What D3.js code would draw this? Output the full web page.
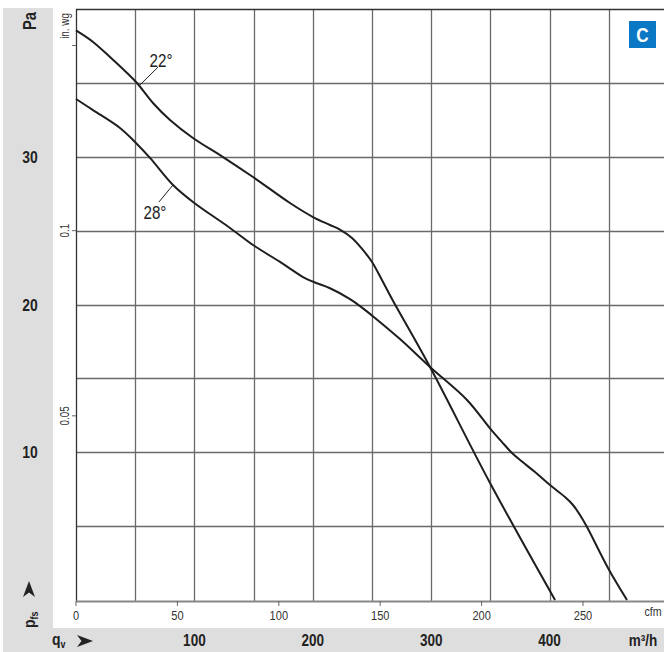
<!DOCTYPE html>
<html><head><meta charset="utf-8">
<script src="https://cdn.jsdelivr.net/npm/d3@7/dist/d3.min.js"></script>
<style>
html,body{margin:0;padding:0;background:#fff;}
svg{display:block;font-family:"Liberation Sans",Arial,sans-serif;}
</style></head>
<body>
<script>
// ---- data (x: m³/h, y: Pa) ----
const curve22_m3h = [0,14.4,28.7,43.1,51.5,65.0,79.4,98.8,124.2,149.5,180.7,200.2,214.5,222.9,233.1,241.6,250.0,258.4,266.9,299.0,349.7,404.6];
const curve22_pa  = [38.55,37.77,36.75,35.67,34.99,33.64,32.49,31.27,29.98,28.63,26.87,25.92,25.38,25.07,24.50,23.76,22.88,21.66,20.37,15.77,7.92,0];
const curve28_m3h = [0,14.36,37.16,49.83,62.50,81.93,98.82,130.07,149.49,172.30,182.43,191.72,201.86,214.53,231.42,242.40,252.53,273.65,298.99,330.24,349.66,359.80,368.24,376.69,387.67,400.34,413.01,419.76,425.68,431.59,449.32,465.37];
const curve28_pa  = [33.91,33.16,31.95,31.00,29.92,28.09,26.94,25.18,24.03,22.88,22.34,21.86,21.49,21.10,20.37,19.74,19.09,17.66,15.77,13.54,11.62,10.69,9.95,9.37,8.66,7.78,6.97,6.43,5.75,4.94,2.17,0];
const paTicks = [10,20,30];
const inwgTicks = [0.05,0.1,0.15];
const inwgLabels = ["0.05","0.1",""];
const cfmTicks = [0,50,100,150,200,250];
const m3hTicks = [100,200,300,400];
const gridM3h = [50,100,150,200,250,300,350,400,450];
const gridPa = [5,10,15,20,25,30,35];
const curveLabels = [{t:"22°", m:71.8, p:36.07, lm0:54.0, lp0:34.86, lm1:69.3, lp1:36.07},
                     {t:"28°", m:66.7, p:25.8, lm0:81.9, lp0:28.09, lm1:70.1, lp1:26.94}];

// ---- layout ----
const W=664,H=652;
const svg=d3.select("body").append("svg").attr("width",W).attr("height",H);
const x=d3.scaleLinear().domain([0,400]).range([76,549.6]);
const xc=d3.scaleLinear().domain([0,250]).range([76,583]);
const y=d3.scaleLinear().domain([0,40]).range([600,9]);
const yi=d3.scaleLinear().domain([0,0.15]).range([601,45.5]);
const NX=0.82; // narrow font factor

function ntext(sel,x0,y0,str,opt){
  opt=opt||{};
  const rot=opt.rot||0;
  const t=sel.append("text")
    .attr("transform",`translate(${x0},${y0}) rotate(${rot}) scale(${NX},1)`)
    .attr("text-anchor",opt.anchor||"middle")
    .attr("font-size",opt.size||13)
    .attr("font-weight",opt.bold?"bold":"normal")
    .attr("fill",opt.fill||"#222");
  if(str!==null) t.text(str);
  return t;
}

// gray panels
svg.append("rect").attr("x",3).attr("y",8).attr("width",50).attr("height",620).attr("fill","#dedede");
svg.append("rect").attr("x",3).attr("y",628).attr("width",W-3).attr("height",24).attr("fill","#dedede");

// grid
const g=svg.append("g");
g.selectAll("line.v").data(gridM3h).join("line")
 .attr("x1",d=>Math.round(x(d))+0.5).attr("x2",d=>Math.round(x(d))+0.5)
 .attr("y1",y(40)).attr("y2",601).attr("stroke","#6a6a6a").attr("stroke-width",1.3);
g.selectAll("line.h").data(gridPa).join("line")
 .attr("y1",d=>Math.round(y(d))+0.5).attr("y2",d=>Math.round(y(d))+0.5)
 .attr("x1",76).attr("x2",W).attr("stroke","#6a6a6a").attr("stroke-width",1.3);
g.append("line").attr("x1",76).attr("x2",W).attr("y1",9.5).attr("y2",9.5).attr("stroke","#333").attr("stroke-width",1.5);
g.append("line").attr("x1",76.5).attr("x2",76.5).attr("y1",9).attr("y2",602).attr("stroke","#333").attr("stroke-width",1.3);
g.append("line").attr("x1",76).attr("x2",W).attr("y1",601.5).attr("y2",601.5).attr("stroke","#888").attr("stroke-width",2);

// cfm axis
svg.append("g").selectAll("line").data(cfmTicks).join("line")
 .attr("x1",d=>xc(d)).attr("x2",d=>xc(d)).attr("y1",601).attr("y2",606).attr("stroke","#666").attr("stroke-width",1);
cfmTicks.forEach(d=>ntext(svg,xc(d),620,String(d),{size:13.5,fill:"#333"}));
ntext(svg,653,616,"cfm",{size:13,fill:"#333"});

// in. wg axis
svg.append("g").selectAll("line").data(inwgTicks).join("line")
 .attr("x1",72).attr("x2",76).attr("y1",d=>yi(d)).attr("y2",d=>yi(d)).attr("stroke","#666");
inwgTicks.forEach((d,i)=>{ if(inwgLabels[i]) ntext(svg,69,yi(d),inwgLabels[i],{rot:-90,size:12,fill:"#333"}); });
ntext(svg,69,26,"in. wg",{rot:-90,size:12,fill:"#333"});

// Pa labels
paTicks.forEach(d=>ntext(svg,30,y(d)+6,String(d),{size:17,bold:true}));
ntext(svg,36,21,"Pa",{rot:-90,size:18,bold:true});

// m3/h labels
m3hTicks.forEach(d=>ntext(svg,x(d),646,String(d),{size:16.5,bold:true}));
ntext(svg,643,646,"m³/h",{size:16.5,bold:true});

// qv and pfs
const qv=ntext(svg,52,645,null,{size:17,bold:true,anchor:"start"});
qv.append("tspan").text("q");
qv.append("tspan").attr("font-size",11).attr("dy",3).text("v");
const arrowPath="M0,-6 L16,0 L0,6 L4.5,0 Z";
svg.append("path").attr("d",arrowPath).attr("transform","translate(77,641)").attr("fill","#222");
const pf=ntext(svg,35,628,null,{rot:-90,size:17,bold:true,anchor:"start"});
pf.append("tspan").text("p");
pf.append("tspan").attr("font-size",11).attr("dy",3).text("fs");
svg.append("path").attr("d",arrowPath).attr("transform","translate(29,597) rotate(-90)").attr("fill","#222");

// curves
const line=d3.line().x(d=>x(d[0])).y(d=>y(d[1])).curve(d3.curveCatmullRom.alpha(0.5));
const c22=curve22_m3h.map((m,i)=>[m,curve22_pa[i]]);
const c28=curve28_m3h.map((m,i)=>[m,curve28_pa[i]]);
[c22,c28].forEach(c=>svg.append("path").attr("d",line(c)).attr("fill","none").attr("stroke","#1e1e1e").attr("stroke-width",2));

// curve labels
curveLabels.forEach(l=>{
  svg.append("line").attr("x1",x(l.lm0)).attr("y1",y(l.lp0)).attr("x2",x(l.lm1)).attr("y2",y(l.lp1)).attr("stroke","#222").attr("stroke-width",1);
  ntext(svg,x(l.m),y(l.p),l.t,{size:18.5});
});

// badge
svg.append("rect").attr("x",629).attr("y",21).attr("width",27).attr("height",27).attr("fill","#0a78c4");
ntext(svg,642.5,42,"C",{size:21,bold:true,fill:"#fff"});
</script>
</body></html>
